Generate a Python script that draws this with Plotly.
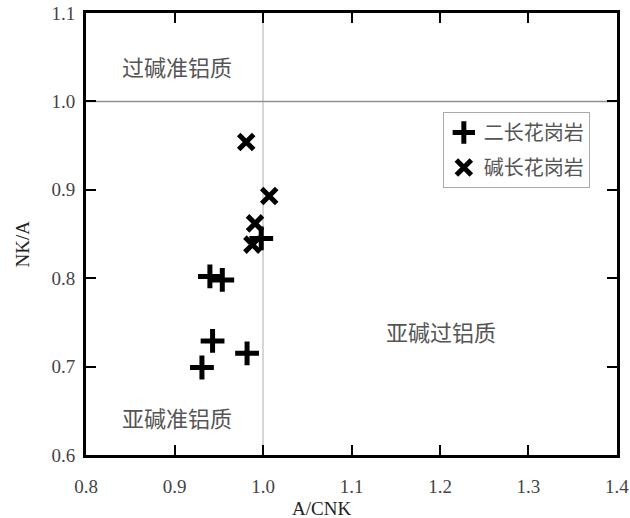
import plotly.graph_objects as go

# Data
two_feldspar_x = [0.931, 0.943, 0.982, 0.940, 0.954, 0.998]
two_feldspar_y = [0.699, 0.729, 0.715, 0.802, 0.798, 0.845]
alkali_x = [0.981, 1.007, 0.991, 0.988]
alkali_y = [0.954, 0.893, 0.862, 0.838]
series_names = ["二长花岗岩", "碱长花岗岩"]
x_ticks = [0.8, 0.9, 1.0, 1.1, 1.2, 1.3, 1.4]
y_ticks = [0.6, 0.7, 0.8, 0.9, 1.0, 1.1]
region_labels = ["过碱准铝质", "亚碱准铝质", "亚碱过铝质"]
region_x = [0.903, 0.903, 1.201]
region_y = [1.040, 0.643, 0.740]

serif = "Liberation Serif, Times New Roman, serif"
cjk = "Noto Sans CJK SC"

fig = go.Figure()
fig.add_trace(go.Scatter(
    x=two_feldspar_x, y=two_feldspar_y, mode="markers", name=series_names[0],
    legendgroup="g1",
    marker=dict(symbol="cross-thin", size=17, color="black",
                line=dict(width=5, color="black"))))
fig.add_trace(go.Scatter(
    x=alkali_x, y=alkali_y, mode="markers", name=series_names[1],
    legendgroup="g2",
    marker=dict(symbol="x-thin", size=15, color="black",
                line=dict(width=5, color="black"))))

# reference lines at 1.0
fig.add_shape(type="line", x0=1.0, x1=1.0, y0=0.6, y1=1.1, xref="x", yref="y",
              line=dict(color="#c8c8c8", width=1.5), layer="below")
fig.add_shape(type="line", x0=0.8, x1=1.4, y0=1.0, y1=1.0, xref="x", yref="y",
              line=dict(color="#909090", width=1.5), layer="below")

for t, xx, yy in zip(region_labels, region_x, region_y):
    fig.add_annotation(x=xx, y=yy, text=t, showarrow=False, xref="x", yref="y",
                       font=dict(family=cjk, size=22, color="#555555"))

fig.add_annotation(x=0.444, y=-0.122, xref="paper", yref="paper", text="A/CNK",
                   xanchor="center", yanchor="middle",
                   showarrow=False, font=dict(family=serif, size=19, color="#222222"))
fig.add_annotation(x=-0.12, y=0.477, xref="paper", yref="paper", text="NK/A",
                   xanchor="center", yanchor="middle",
                   showarrow=False, textangle=-90,
                   font=dict(family=serif, size=19, color="#222222"))

fig.update_xaxes(range=[0.79999, 1.40001], tickvals=x_ticks,
                 ticktext=[f"{v:.1f}" for v in x_ticks],
                 showgrid=False, zeroline=False, showline=True, mirror="ticks",
                 linecolor="black", linewidth=3, ticks="inside", ticklen=10,
                 tickwidth=2, tickcolor="black", automargin=False,
                 ticklabelstandoff=12, ticklabeloverflow="allow",
                 tickfont=dict(family=serif, size=19, color="#444444"))
fig.update_yaxes(range=[0.59999, 1.10001], tickvals=y_ticks,
                 ticktext=[f"{v:.1f}" for v in y_ticks],
                 showgrid=False, zeroline=False, showline=True, mirror="ticks",
                 linecolor="black", linewidth=3, ticks="inside", ticklen=10,
                 tickwidth=2, tickcolor="black", automargin=False,
                 ticklabelstandoff=4, ticklabeloverflow="allow",
                 tickfont=dict(family=serif, size=19, color="#444444"))

fig.update_layout(
    width=630, height=518,
    margin=dict(l=86, r=13, t=13, b=63, autoexpand=False),
    plot_bgcolor="white", paper_bgcolor="white",
    showlegend=True,
    legend=dict(x=0.672, y=0.776, xanchor="left", yanchor="top",
                bgcolor="white", bordercolor="#aaaaaa", borderwidth=1,
                font=dict(family=cjk, size=20, color="#555555"),
                itemwidth=30, tracegroupgap=6),
)

fig.write_html("out.html")
